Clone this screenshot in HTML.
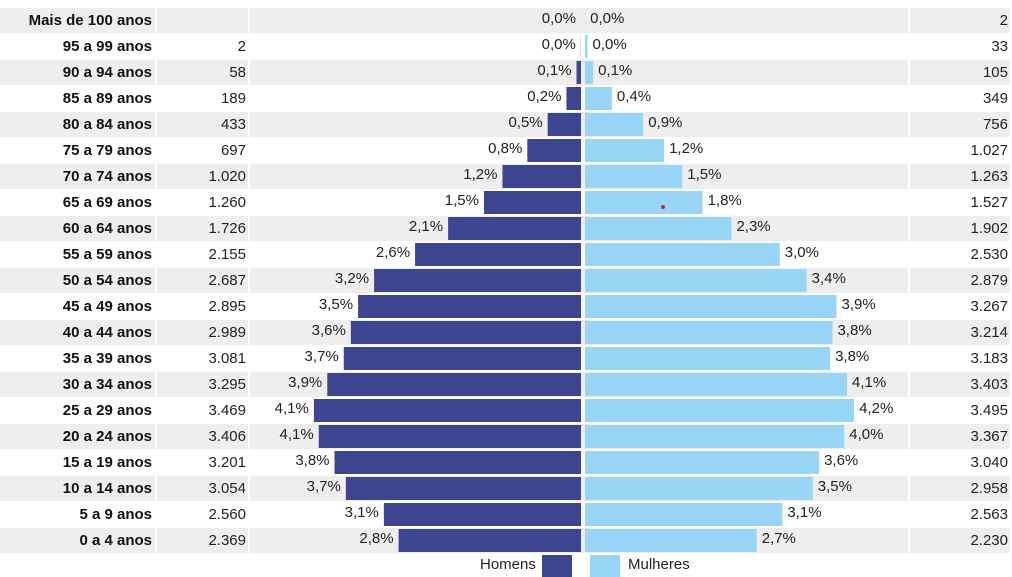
<!DOCTYPE html>
<html><head><meta charset="utf-8"><style>
html,body{margin:0;padding:0;background:#fff;width:1012px;height:577px;overflow:hidden}
svg{display:block;font-family:"Liberation Sans",Arial,sans-serif}
</style></head><body>
<svg id="chart" width="1012" height="577"></svg>
<script>
const ageGroups=["Mais de 100 anos","95 a 99 anos","90 a 94 anos","85 a 89 anos","80 a 84 anos","75 a 79 anos","70 a 74 anos","65 a 69 anos","60 a 64 anos","55 a 59 anos","50 a 54 anos","45 a 49 anos","40 a 44 anos","35 a 39 anos","30 a 34 anos","25 a 29 anos","20 a 24 anos","15 a 19 anos","10 a 14 anos","5 a 9 anos","0 a 4 anos"];
const maleCounts=[0,2,58,189,433,697,1020,1260,1726,2155,2687,2895,2989,3081,3295,3469,3406,3201,3054,2560,2369];
const malePct=[0.0,0.0,0.1,0.2,0.5,0.8,1.2,1.5,2.1,2.6,3.2,3.5,3.6,3.7,3.9,4.1,4.1,3.8,3.7,3.1,2.8];
const femaleCounts=[2,33,105,349,756,1027,1263,1527,1902,2530,2879,3267,3214,3183,3403,3495,3367,3040,2958,2563,2230];
const femalePct=[0.0,0.0,0.1,0.4,0.9,1.2,1.5,1.8,2.3,3.0,3.4,3.9,3.8,3.8,4.1,4.2,4.0,3.6,3.5,3.1,2.7];

const svg=document.getElementById('chart');
const NS='http://www.w3.org/2000/svg';
function mk(tag,attrs,text){const e=document.createElementNS(NS,tag);for(const k in attrs)e.setAttribute(k,attrs[k]);if(text!==undefined)e.textContent=text;svg.appendChild(e);return e;}
const fmtInt=v=>v===0?'':v.toLocaleString('de-DE');
const fmtPct=v=>v.toFixed(1).replace('.',',')+'%';
const rowTop=i=>8+26*i;
const scale=0.077;
const maleX0=581, femaleX0=585;
const xMale=v=>maleX0-v*scale;
const xFemale=v=>femaleX0+v*scale;

ageGroups.forEach((g,i)=>{
  const t=rowTop(i);
  if(i%2===0){
    let r;
    r=mk('rect',{x:0,y:t,width:155,height:25,fill:'#eeeeee'});
    
    r=mk('rect',{x:157,y:t,width:91,height:25,fill:'#eeeeee'});
    
    r=mk('rect',{x:250,y:t,width:658,height:25,fill:'#eeeeee'});
    
    r=mk('rect',{x:910,y:t,width:100,height:25,fill:'#eeeeee'});
    
  }
  let e=mk('text',{x:152,y:t+17,'text-anchor':'end','font-size':'15','font-weight':'bold',fill:'#111'},g);
  
  e=mk('text',{x:246,y:t+17,'text-anchor':'end','font-size':'15',fill:'#222'},fmtInt(maleCounts[i]));
  
  e=mk('text',{x:1008,y:t+17,'text-anchor':'end','font-size':'15',fill:'#222'},fmtInt(femaleCounts[i]));
  
  const mx=xMale(maleCounts[i]);
  e=mk('rect',{x:mx,y:t+1,width:maleX0-mx,height:23,fill:'#3d4591'});
  
  const fx=xFemale(femaleCounts[i]);
  e=mk('rect',{x:femaleX0,y:t+1,width:fx-femaleX0,height:23,fill:'#99d5f7'});
  
  e=mk('text',{x:mx-5,y:t+15,'text-anchor':'end','font-size':'15',fill:'#222'},fmtPct(malePct[i]));
  
  e=mk('text',{x:fx+5,y:t+15,'font-size':'15',fill:'#222'},fmtPct(femalePct[i]));
  
});
let d=mk('circle',{cx:663,cy:207,r:2,fill:'#d0203a'});

let l=mk('text',{x:480,y:569,'font-size':'15',fill:'#222'},'Homens');

l=mk('rect',{x:542,y:555,width:30,height:22,fill:'#3d4591'});

l=mk('rect',{x:590,y:555,width:30,height:22,fill:'#99d5f7'});

l=mk('text',{x:628,y:569,'font-size':'15',fill:'#222'},'Mulheres');

</script>
</body></html>
